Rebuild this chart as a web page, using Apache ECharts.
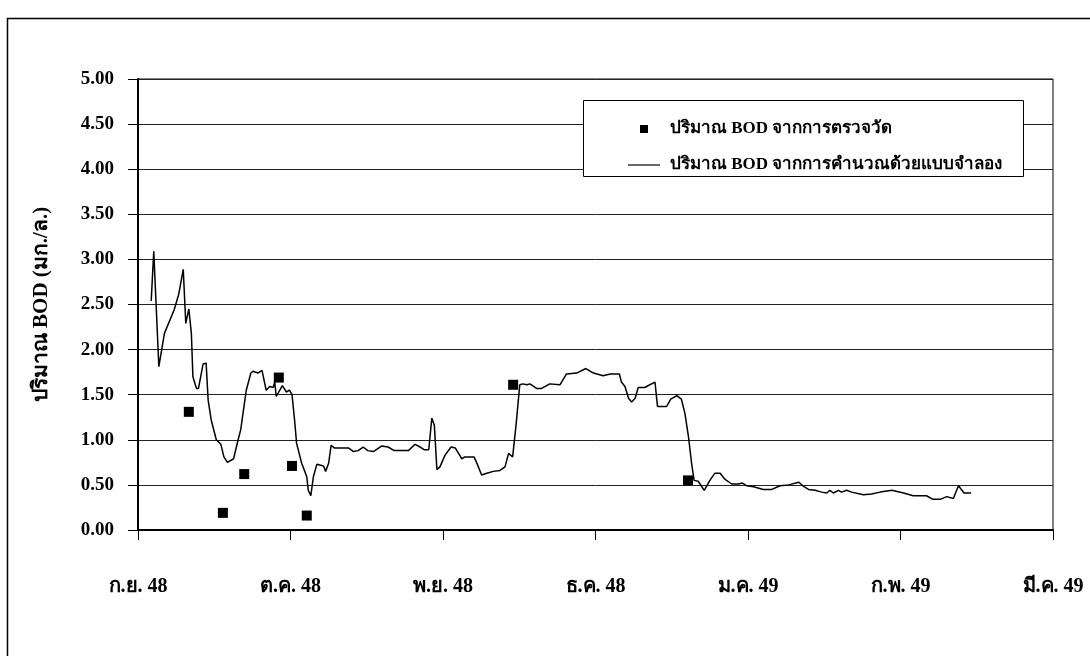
<!DOCTYPE html>
<html><head><meta charset="utf-8">
<script src="https://cdn.jsdelivr.net/npm/echarts@6/dist/echarts.min.js"></script>
<style>html,body{margin:0;padding:0;background:#fff}#c{width:1090px;height:656px}</style>
</head><body><div id="c"></div>
<script>
// x in days since 1 Sep 2005 (ก.ย. 48); month ticks every 30 days
const monthLabels = ['ก.ย. 48','ต.ค. 48','พ.ย. 48','ธ.ค. 48','ม.ค. 49','ก.พ. 49','มี.ค. 49'];
const yTicks = [0,0.5,1,1.5,2,2.5,3,3.5,4,4.5,5];
const measuredDays = [10.0, 16.7, 20.9, 27.7, 30.3, 33.2, 73.8, 108.2];
const measuredVals = [1.31, 0.19, 0.62, 1.69, 0.71, 0.16, 1.61, 0.55];
const modelDays = [2.6,3.1,4.1,5.2,7.1,8.0,8.9,9.4,10.0,10.5,10.8,11.5,11.9,12.8,13.4,13.8,14.4,15.4,16.3,16.9,17.6,18.8,19.7,20.2,21.3,22.2,22.6,23.6,24.4,25.2,25.9,26.6,26.9,27.2,28.4,29.2,29.8,30.3,30.8,31.2,32.2,33.2,33.5,34.0,34.5,35.2,36.5,36.9,37.5,38.0,38.6,41.4,42.4,43.3,44.3,45.2,46.3,47.9,49.2,50.4,53.2,54.5,55.5,56.3,57.2,57.8,58.3,58.8,59.4,60.4,61.6,62.4,63.7,64.3,66.1,66.6,67.6,68.6,69.9,71.2,72.2,72.9,73.7,74.4,75.1,75.7,76.5,77.1,78.4,79.4,81.0,83.0,84.3,86.3,88.1,89.6,91.5,92.9,94.7,95.1,95.8,96.5,97.1,97.8,98.4,99.7,100.7,101.7,102.2,104.0,104.8,106.0,106.9,107.6,108.3,108.9,109.4,110.2,111.4,112.5,113.5,114.5,115.5,116.8,118.1,118.9,119.8,121.1,123.0,124.7,126.3,128.0,130.0,130.8,131.9,133.2,134.5,135.5,136.1,136.8,137.8,138.4,139.4,140.4,142.7,144.3,146.0,148.3,150.6,152.5,155.1,156.4,157.8,159.1,160.4,161.4,162.5,163.9];
const modelVals = [2.54,3.09,1.81,2.18,2.44,2.61,2.89,2.29,2.45,2.18,1.70,1.57,1.57,1.84,1.85,1.44,1.22,1.00,0.95,0.81,0.75,0.79,1.00,1.11,1.55,1.74,1.76,1.74,1.77,1.55,1.59,1.58,1.64,1.48,1.60,1.53,1.55,1.50,1.22,0.96,0.74,0.59,0.44,0.38,0.59,0.73,0.71,0.65,0.74,0.94,0.91,0.91,0.87,0.88,0.92,0.88,0.87,0.93,0.92,0.88,0.88,0.95,0.92,0.89,0.89,1.24,1.16,0.67,0.70,0.83,0.92,0.91,0.79,0.81,0.81,0.75,0.61,0.63,0.65,0.66,0.70,0.85,0.81,1.18,1.61,1.62,1.61,1.62,1.57,1.57,1.62,1.61,1.73,1.74,1.79,1.74,1.71,1.73,1.73,1.64,1.59,1.46,1.42,1.46,1.58,1.58,1.61,1.64,1.37,1.37,1.45,1.49,1.45,1.29,1.03,0.74,0.55,0.54,0.44,0.55,0.63,0.63,0.56,0.51,0.51,0.52,0.49,0.48,0.45,0.45,0.49,0.50,0.53,0.49,0.45,0.44,0.42,0.41,0.44,0.41,0.44,0.42,0.44,0.42,0.39,0.40,0.42,0.44,0.41,0.38,0.38,0.34,0.34,0.37,0.35,0.49,0.41,0.41];
const seriesNames = ['ปริมาณ BOD จากการตรวจวัด','ปริมาณ BOD จากการคำนวณด้วยแบบจำลอง'];
const yTitle = 'ปริมาณ BOD (มก./ล.)';

const FONT = '"Liberation Serif","Times New Roman",serif';
const chart = echarts.init(document.getElementById('c'), null, {renderer:'canvas'});
chart.setOption({
  animation:false,
  backgroundColor:'#fff',
  graphic:[
    {type:'rect', z:0, shape:{x:7.5,y:18.5,width:1200,height:800}, style:{fill:null, stroke:'#000', lineWidth:1.5}},
    {type:'rect', z:1, shape:{x:583.5,y:100.5,width:440,height:76}, style:{fill:'#fff', stroke:'#000', lineWidth:1}}
  ],
  grid:{left:138, right:37, top:79, bottom:126, show:true, borderColor:'#000', borderWidth:1, backgroundColor:'transparent'},
  legend:{
    z:5, orient:'vertical', left:623, top:114, itemWidth:32, itemHeight:8, itemGap:16,
    data:[
      {name:seriesNames[0], icon:'path://M0,0h8v8h-8z'},
      {name:seriesNames[1], icon:'path://M0,0h32v1.2h-32z'}
    ],
    textStyle:{fontFamily:FONT, fontWeight:'bold', fontSize:17, color:'#000', lineHeight:20, padding:[0,0,0,5]}
  },
  xAxis:{
    type:'value', min:0, max:180, interval:30,
    axisLine:{lineStyle:{color:'#000', width:2}},
    axisTick:{show:true, length:10, lineStyle:{color:'#000', width:1}},
    splitLine:{show:false},
    axisLabel:{margin:47, fontFamily:FONT, fontWeight:'bold', fontSize:20, color:'#000',
      formatter:function(v){return monthLabels[Math.round(v/30)]||'';}}
  },
  yAxis:{
    type:'value', min:yTicks[0], max:yTicks[yTicks.length-1], interval:0.5,
    name:yTitle, nameLocation:'middle', nameGap:86, nameRotate:90,
    nameTextStyle:{fontFamily:FONT, fontWeight:'bold', fontSize:21, color:'#000'},
    axisLine:{show:true, lineStyle:{color:'#000', width:2}},
    axisTick:{show:true, length:10, lineStyle:{color:'#000'}},
    splitLine:{show:true, lineStyle:{color:'#222', width:1}},
    axisLabel:{margin:24, fontFamily:FONT, fontWeight:'bold', fontSize:19, color:'#000',
      formatter:function(v){return v.toFixed(2);}}
  },
  series:[
    {name:seriesNames[0], type:'scatter', symbol:'rect', symbolSize:10, z:4,
     itemStyle:{color:'#000', opacity:1},
     data:measuredDays.map((d,i)=>[d, measuredVals[i]])},
    {name:seriesNames[1], type:'line', symbol:'none', showSymbol:false, z:3,
     lineStyle:{color:'#000', width:1.5}, itemStyle:{color:'#000'},
     data:modelDays.map((d,i)=>[d, modelVals[i]])}
  ]
});
</script></body></html>
